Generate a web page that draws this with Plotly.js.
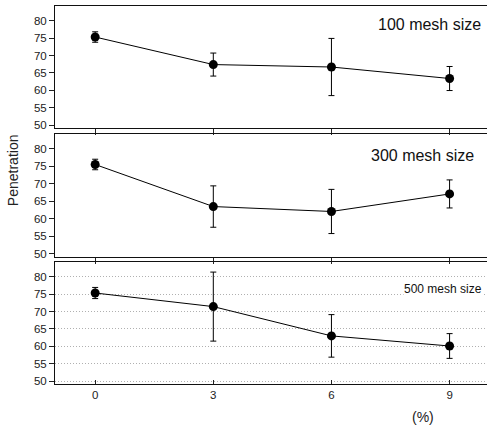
<!DOCTYPE html>
<html>
<head>
<meta charset="utf-8">
<script src="https://cdn.plot.ly/plotly-3.0.1.min.js"></script>
<style>html,body{margin:0;padding:0;background:#fff;}#chart{width:487px;height:427px;}</style>
</head>
<body>
<div id="chart"></div>
<script>
// Data
const concentration = [0, 3, 6, 9];
const xTickLabels = ["0", "3", "6", "9"];
const panelLabels = ["100 mesh size", "300 mesh size", "500 mesh size"];

const mesh100Mean = [75.3, 67.4, 66.7, 63.4];
const mesh100Err  = [1.5, 3.3, 8.2, 3.45];

const mesh300Mean = [75.5, 63.5, 62.1, 67.1];
const mesh300Err  = [1.5, 5.9, 6.3, 4.0];

const mesh500Mean = [75.3, 71.4, 63.0, 60.1];
const mesh500Err  = [1.6, 9.9, 6.1, 3.55];

const FONT = 'Liberation Sans';

function seriesTrace(means, errs, xa, ya) {
  return {
    x: concentration, y: means, xaxis: xa, yaxis: ya,
    type: 'scatter', mode: 'lines+markers',
    line: {color: 'black', width: 1},
    marker: {color: 'black', size: 9},
    error_y: {type: 'data', array: errs, visible: true, thickness: 1, width: 3, color: 'black'},
    showlegend: false, hoverinfo: 'skip'
  };
}

const data = [
  seriesTrace(mesh100Mean, mesh100Err, 'x', 'y'),
  seriesTrace(mesh300Mean, mesh300Err, 'x2', 'y2'),
  seriesTrace(mesh500Mean, mesh500Err, 'x3', 'y3')
];

const tickFont = {family: FONT, size: 11.5, color: '#222'};
const xRange = [-1.02, 9.95];
const yRange = [49.2, 84.2];

function xAxis(anchor, showLabels, ticksDir, len) {
  return {
    anchor: anchor, domain: [0, 1], range: xRange,
    tickvals: concentration, ticktext: xTickLabels,
    showticklabels: showLabels, ticks: ticksDir, ticklen: len, tickcolor: '#222', tickwidth: 1,
    showline: true, mirror: true, linecolor: '#111', linewidth: 1,
    showgrid: false, zeroline: false, tickfont: tickFont
  };
}
function yAxis(anchor, domain, grid) {
  return {
    anchor: anchor, domain: domain, range: yRange,
    tickvals: [50, 55, 60, 65, 70, 75, 80],
    ticks: 'outside', ticklen: 5, tickcolor: '#222', tickwidth: 1,
    showline: true, mirror: false, linecolor: '#111', linewidth: 1,
    showgrid: grid, gridcolor: '#b0b0b0', griddash: '1px,2px', gridwidth: 1,
    zeroline: false, tickfont: tickFont
  };
}

const layout = {
  width: 487, height: 427,
  margin: {l: 55, r: 0, t: 6, b: 43},
  font: {family: FONT},
  paper_bgcolor: '#fff', plot_bgcolor: 'rgba(0,0,0,0)',
  xaxis: xAxis('y', false, 'outside', 6),
  xaxis2: xAxis('y2', false, 'outside', 6),
  xaxis3: xAxis('y3', true, 'inside', 4),
  yaxis: yAxis('x', [0.6772, 1], false),
  yaxis2: yAxis('x2', [0.3368, 0.6614], false),
  yaxis3: yAxis('x3', [0, 0.3228], true),
  annotations: [
    {text: panelLabels[0], xref: 'paper', yref: 'y', x: 0.99, y: 78.8, xanchor: 'right', yanchor: 'middle',
     showarrow: false, font: {family: FONT, size: 16, color: '#111'}},
    {text: panelLabels[1], xref: 'paper', yref: 'y2', x: 0.975, y: 78.1, xanchor: 'right', yanchor: 'middle',
     showarrow: false, font: {family: FONT, size: 16, color: '#111'}},
    {text: panelLabels[2], xref: 'paper', yref: 'y3', x: 0.99, y: 76.4, xanchor: 'right', yanchor: 'middle',
     showarrow: false, bgcolor: '#fff', borderpad: 0,
     font: {family: FONT, size: 12, color: '#111'}},
    {text: 'Penetration', xref: 'paper', yref: 'paper', x: -0.097, y: 0.566, xanchor: 'center', yanchor: 'middle',
     textangle: -90, showarrow: false, font: {family: FONT, size: 14, color: '#222'}},
    {text: '(%)', xref: 'paper', yref: 'paper', x: 0.851, y: -0.087, xanchor: 'center', yanchor: 'middle',
     showarrow: false, font: {family: FONT, size: 14, color: '#222'}}
  ]
};

Plotly.newPlot('chart', data, layout, {staticPlot: true, displayModeBar: false});
</script>
</body>
</html>
